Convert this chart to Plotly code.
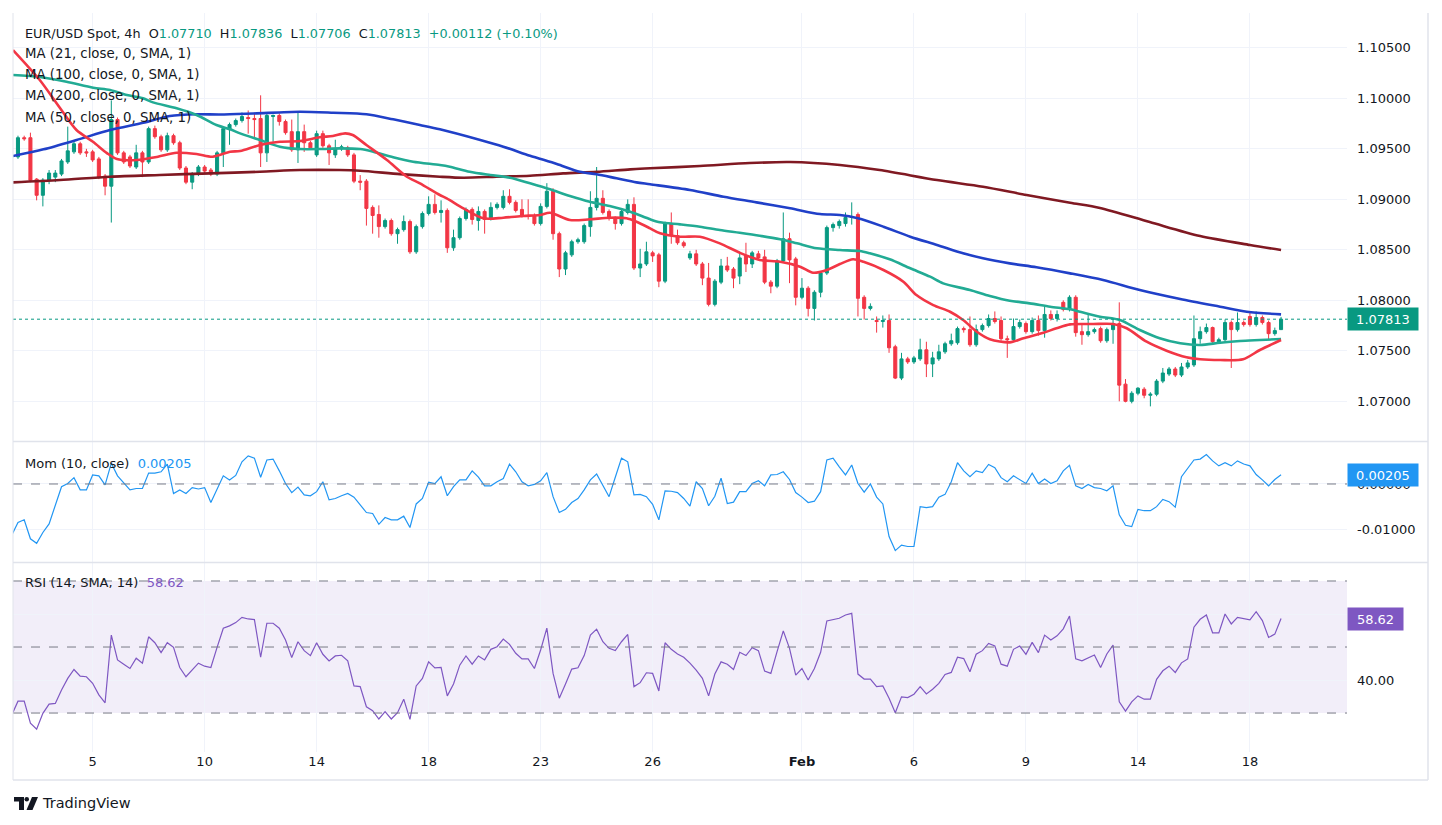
import plotly.graph_objects as go

# ---------------- DATA ----------------
bar_open = [
    1.0942, 1.0961, 1.0961, 1.0920, 1.0904, 1.0919, 1.0922, 1.0925, 1.0937, 1.0947,
    1.0955, 1.0947, 1.0947, 1.0940, 1.0923, 1.0913, 1.0979, 1.0946, 1.0942, 1.0932,
    1.0946, 1.0937, 1.0970, 1.0962, 1.0949, 1.0963, 1.0956, 1.0931, 1.0917, 1.0925,
    1.0932, 1.0929, 1.0925, 1.0946, 1.0969, 1.0974, 1.0978, 1.0981, 1.0980, 1.0980,
    1.0946, 1.0982, 1.0983, 1.0977, 1.0967, 1.0949, 1.0967, 1.0956, 1.0944, 1.0965,
    1.0953, 1.0944, 1.0950, 1.0951, 1.0944, 1.0918, 1.0918, 1.0892, 1.0885, 1.0873,
    1.0879, 1.0866, 1.0870, 1.0878, 1.0848, 1.0873, 1.0886, 1.0895, 1.0887, 1.0889,
    1.0852, 1.0862, 1.0881, 1.0890, 1.0879, 1.0888, 1.0881, 1.0892, 1.0892, 1.0903,
    1.0897, 1.0890, 1.0884, 1.0884, 1.0876, 1.0893, 1.0908, 1.0866, 1.0831, 1.0845,
    1.0858, 1.0858, 1.0873, 1.0892, 1.0901, 1.0888, 1.0881, 1.0876, 1.0887, 1.0895,
    1.0832, 1.0836, 1.0847, 1.0845, 1.0819, 1.0876, 1.0864, 1.0857, 1.0842, 1.0846,
    1.0836, 1.0822, 1.0796, 1.0818, 1.0834, 1.0831, 1.0824, 1.0844, 1.0836, 1.0846,
    1.0843, 1.0818, 1.0814, 1.0839, 1.0861, 1.0841, 1.0803, 1.0812, 1.0792, 1.0808,
    1.0827, 1.0872, 1.0874, 1.0876, 1.0882, 1.0885, 1.0803, 1.0792, 1.0780, 1.0779,
    1.0780, 1.0754, 1.0723, 1.0742, 1.0739, 1.0742, 1.0751, 1.0737, 1.0742, 1.0749,
    1.0757, 1.0758, 1.0772, 1.0771, 1.0756, 1.0771, 1.0775, 1.0782, 1.0780, 1.0762,
    1.0761, 1.0774, 1.0777, 1.0769, 1.0780, 1.0770, 1.0786, 1.0782, 1.0798, 1.0791,
    1.0803, 1.0769, 1.0766, 1.0769, 1.0772, 1.0760, 1.0771, 1.0777, 1.0717, 1.0700,
    1.0708, 1.0712, 1.0706, 1.0707, 1.0720, 1.0727, 1.0732, 1.0726, 1.0734, 1.0736,
    1.0762, 1.0769, 1.0773, 1.0759, 1.0761, 1.0778, 1.0771, 1.0778, 1.0784, 1.0776,
    1.0783, 1.0778, 1.0767, 1.07710,
]
bar_high = [
    1.0963, 1.0963, 1.0966, 1.0921, 1.0921, 1.0929, 1.0929, 1.0940, 1.0972, 1.0958,
    1.0957, 1.0950, 1.0949, 1.0942, 1.0925, 1.0998, 1.0981, 1.0948, 1.0944, 1.0954,
    1.0948, 1.0972, 1.0973, 1.0964, 1.0966, 1.0965, 1.0958, 1.0933, 1.0927, 1.0934,
    1.0934, 1.0931, 1.0948, 1.0972, 1.0976, 1.0980, 1.0986, 1.0988, 1.0985, 1.1003,
    1.0985, 1.0984, 1.0985, 1.0979, 1.0979, 1.0987, 1.0974, 1.0958, 1.0968, 1.0968,
    1.0955, 1.0959, 1.0954, 1.0953, 1.0946, 1.0924, 1.0920, 1.0894, 1.0894, 1.0881,
    1.0881, 1.0872, 1.0884, 1.0880, 1.0875, 1.0888, 1.0903, 1.0905, 1.0899, 1.0891,
    1.0870, 1.0883, 1.0892, 1.0892, 1.0893, 1.0890, 1.0897, 1.0897, 1.0909, 1.0910,
    1.0899, 1.0900, 1.0900, 1.0886, 1.0896, 1.0916, 1.0911, 1.0868, 1.0849, 1.0860,
    1.0862, 1.0876, 1.0908, 1.0932, 1.0909, 1.0890, 1.0883, 1.0890, 1.0900, 1.0902,
    1.0851, 1.0858, 1.0849, 1.0847, 1.0878, 1.0887, 1.0870, 1.0859, 1.0849, 1.0850,
    1.0838, 1.0837, 1.0821, 1.0841, 1.0843, 1.0833, 1.0848, 1.0857, 1.0849, 1.0849,
    1.0850, 1.0820, 1.0841, 1.0887, 1.0867, 1.0843, 1.0822, 1.0814, 1.0810, 1.0829,
    1.0874, 1.0877, 1.0880, 1.0887, 1.0897, 1.0887, 1.0805, 1.0797, 1.0784, 1.0785,
    1.0786, 1.0756, 1.0748, 1.0744, 1.0745, 1.0762, 1.0759, 1.0749, 1.0756, 1.0759,
    1.0767, 1.0774, 1.0774, 1.0784, 1.0776, 1.0777, 1.0786, 1.0789, 1.0784, 1.0765,
    1.0782, 1.0781, 1.0779, 1.0783, 1.0785, 1.0794, 1.0790, 1.0790, 1.0800, 1.0805,
    1.0805, 1.0777, 1.0787, 1.0773, 1.0774, 1.0773, 1.0782, 1.0798, 1.0722, 1.0710,
    1.0714, 1.0714, 1.0709, 1.0722, 1.0733, 1.0734, 1.0734, 1.0738, 1.0741, 1.0785,
    1.0774, 1.0777, 1.0774, 1.0763, 1.0781, 1.0780, 1.0788, 1.0780, 1.0789, 1.0789,
    1.0785, 1.0780, 1.0773, 1.07836,
]
bar_low = [
    1.0940, 1.0958, 1.0917, 1.0899, 1.0893, 1.0915, 1.0917, 1.0923, 1.0935, 1.0945,
    1.0944, 1.0942, 1.0937, 1.0920, 1.0904, 1.0877, 1.0944, 1.0935, 1.0931, 1.0930,
    1.0922, 1.0935, 1.0960, 1.0947, 1.0947, 1.0954, 1.0929, 1.0915, 1.0910, 1.0923,
    1.0926, 1.0923, 1.0923, 1.0932, 1.0954, 1.0972, 1.0976, 1.0965, 1.0961, 1.0932,
    1.0937, 1.0957, 1.0973, 1.0964, 1.0947, 1.0936, 1.0947, 1.0949, 1.0942, 1.0951,
    1.0934, 1.0941, 1.0948, 1.0942, 1.0916, 1.0909, 1.0874, 1.0866, 1.0862, 1.0871,
    1.0864, 1.0856, 1.0868, 1.0846, 1.0846, 1.0871, 1.0884, 1.0885, 1.0877, 1.0847,
    1.0849, 1.0860, 1.0879, 1.0875, 1.0869, 1.0866, 1.0879, 1.0890, 1.0890, 1.0895,
    1.0887, 1.0882, 1.0880, 1.0874, 1.0874, 1.0891, 1.0860, 1.0823, 1.0825, 1.0843,
    1.0856, 1.0856, 1.0863, 1.0889, 1.0885, 1.0879, 1.0870, 1.0874, 1.0885, 1.0830,
    1.0823, 1.0834, 1.0838, 1.0813, 1.0817, 1.0856, 1.0855, 1.0852, 1.0840, 1.0834,
    1.0815, 1.0794, 1.0794, 1.0816, 1.0828, 1.0812, 1.0816, 1.0828, 1.0832, 1.0840,
    1.0816, 1.0807, 1.0812, 1.0837, 1.0817, 1.0795, 1.0801, 1.0784, 1.0780, 1.0803,
    1.0825, 1.0868, 1.0871, 1.0873, 1.0875, 1.0784, 1.0781, 1.0790, 1.0768, 1.0773,
    1.0748, 1.0722, 1.0721, 1.0737, 1.0737, 1.0740, 1.0724, 1.0724, 1.0740, 1.0747,
    1.0755, 1.0756, 1.0768, 1.0754, 1.0754, 1.0769, 1.0773, 1.0777, 1.0760, 1.0743,
    1.0759, 1.0772, 1.0767, 1.0767, 1.0765, 1.0763, 1.0780, 1.0779, 1.0789, 1.0789,
    1.0764, 1.0756, 1.0764, 1.0767, 1.0758, 1.0758, 1.0757, 1.0700, 1.0699, 1.0698,
    1.0706, 1.0703, 1.0695, 1.0705, 1.0718, 1.0725, 1.0724, 1.0724, 1.0732, 1.0734,
    1.0757, 1.0767, 1.0757, 1.0757, 1.0759, 1.0733, 1.0769, 1.0774, 1.0774, 1.0774,
    1.0776, 1.0761, 1.0765, 1.07706,
]
bar_close = [
    1.0961, 1.0960, 1.0919, 1.0904, 1.0919, 1.0926, 1.0926, 1.0938, 1.0948, 1.0955,
    1.0946, 1.0946, 1.0939, 1.0922, 1.0913, 1.0979, 1.0946, 1.0937, 1.0933, 1.0946,
    1.0937, 1.0970, 1.0962, 1.0949, 1.0963, 1.0956, 1.0931, 1.0917, 1.0925, 1.0932,
    1.0928, 1.0925, 1.0946, 1.0970, 1.0974, 1.0978, 1.0982, 1.0980, 1.0979, 1.0946,
    1.0983, 1.0983, 1.0977, 1.0966, 1.0949, 1.0967, 1.0956, 1.0951, 1.0965, 1.0953,
    1.0946, 1.0950, 1.0952, 1.0944, 1.0918, 1.0917, 1.0891, 1.0884, 1.0873, 1.0879,
    1.0866, 1.0870, 1.0878, 1.0848, 1.0873, 1.0886, 1.0895, 1.0887, 1.0889, 1.0852,
    1.0862, 1.0881, 1.0890, 1.0880, 1.0888, 1.0880, 1.0892, 1.0895, 1.0903, 1.0897,
    1.0889, 1.0884, 1.0883, 1.0876, 1.0893, 1.0908, 1.0866, 1.0831, 1.0847, 1.0858,
    1.0860, 1.0874, 1.0892, 1.0901, 1.0887, 1.0881, 1.0876, 1.0888, 1.0895, 1.0832,
    1.0836, 1.0848, 1.0844, 1.0819, 1.0876, 1.0864, 1.0857, 1.0854, 1.0846, 1.0836,
    1.0822, 1.0796, 1.0819, 1.0834, 1.0830, 1.0822, 1.0842, 1.0836, 1.0847, 1.0842,
    1.0818, 1.0814, 1.0839, 1.0861, 1.0840, 1.0803, 1.0812, 1.0792, 1.0808, 1.0827,
    1.0872, 1.0875, 1.0878, 1.0882, 1.0883, 1.0802, 1.0792, 1.0794, 1.0779, 1.0780,
    1.0753, 1.0723, 1.0742, 1.0739, 1.0743, 1.0751, 1.0737, 1.0743, 1.0749, 1.0757,
    1.0760, 1.0772, 1.0771, 1.0756, 1.0771, 1.0775, 1.0782, 1.0779, 1.0762, 1.0761,
    1.0774, 1.0778, 1.0769, 1.0780, 1.0770, 1.0786, 1.0782, 1.0786, 1.0791, 1.0803,
    1.0768, 1.0766, 1.0769, 1.0771, 1.0760, 1.0771, 1.0777, 1.0716, 1.0700, 1.0708,
    1.0713, 1.0706, 1.0707, 1.0720, 1.0728, 1.0732, 1.0726, 1.0734, 1.0738, 1.0762,
    1.0769, 1.0773, 1.0759, 1.0761, 1.0778, 1.0771, 1.0778, 1.0776, 1.0776, 1.0783,
    1.0778, 1.0767, 1.0770, 1.07813,
]

# Moving averages (bar position, value)
ma21_bar = [-0.8, 3.5, 6.75, 9.4, 12.05, 14.3, 15.9, 19.1, 22.3, 25.5, 28.7, 31.3, 34.1, 35.7, 38.9, 42.1,
            45.3, 48.5, 50.6, 52.6, 53.8, 56.0, 59.3, 62.5, 64.6, 67.8, 68.9, 71.6, 74.8, 78.0, 81.2, 83.9,
            85.5, 88.7, 91.9, 95.1, 97.8, 99.4, 101.6, 103.2, 106.4, 109.6, 112.8, 116.0, 119.2, 122.5,
            125.7, 127.8, 130.0, 132.1, 134.2, 135.9, 139.1, 142.3, 144.4, 147.1, 149.8, 151.9, 154.1,
            156.2, 159.4, 161.6, 164.8, 166.9, 169.1, 172.8, 176.0, 178.2, 181.4, 184.6, 187.8, 190.0,
            193.2, 196.9, 199.6, 203.0]
ma21_val = [1.10478, 1.10181, 1.09904, 1.09686, 1.09570, 1.09458, 1.09399, 1.09389, 1.09419, 1.09461,
            1.09449, 1.09422, 1.09471, 1.09478, 1.09538, 1.09570, 1.09577, 1.09614, 1.09627, 1.09653,
            1.09637, 1.09538, 1.09389, 1.09224, 1.09158, 1.09043, 1.09010, 1.08911, 1.08812, 1.08818,
            1.08835, 1.08845, 1.08867, 1.08795, 1.08802, 1.08818, 1.08812, 1.08778, 1.08713, 1.08663,
            1.08630, 1.08630, 1.08564, 1.08471, 1.08399, 1.08382, 1.08333, 1.08273, 1.08300, 1.08359,
            1.08406, 1.08382, 1.08300, 1.08184, 1.08052, 1.07953, 1.07887, 1.07805, 1.07689, 1.07614,
            1.07584, 1.07624, 1.07679, 1.07723, 1.07762, 1.07765, 1.07765, 1.07723, 1.07590, 1.07501,
            1.07436, 1.07416, 1.07409, 1.07416, 1.07508, 1.07607]

ma50_bar = [-0.8, 3.5, 7.8, 12.1, 14.8, 17.5, 20.1, 21.7, 25.5, 28.7, 31.9, 34.1, 35.7, 38.9, 42.1, 45.3,
            48.5, 51.7, 55.0, 57.1, 60.3, 63.5, 67.8, 69.4, 72.6, 75.9, 79.1, 82.3, 85.5, 88.7, 91.9, 95.1,
            98.4, 101.6, 103.2, 106.4, 109.6, 112.8, 116.0, 119.2, 122.5, 125.2, 128.4, 132.1, 135.3,
            136.9, 140.1, 143.4, 146.6, 148.7, 153.0, 156.2, 159.4, 162.6, 165.9, 169.1, 170.7, 173.9,
            177.1, 180.3, 183.5, 186.8, 190.0, 193.2, 196.4, 199.6, 203.0]
ma50_val = [1.10231, 1.10211, 1.10164, 1.10105, 1.10082, 1.10033, 1.10000, 1.09960, 1.09901, 1.09835,
            1.09736, 1.09693, 1.09653, 1.09587, 1.09521, 1.09498, 1.09498, 1.09505, 1.09498, 1.09471,
            1.09416, 1.09372, 1.09340, 1.09323, 1.09273, 1.09241, 1.09214, 1.09158, 1.09099, 1.09033,
            1.08976, 1.08934, 1.08877, 1.08802, 1.08772, 1.08752, 1.08729, 1.08696, 1.08669, 1.08640,
            1.08604, 1.08564, 1.08515, 1.08498, 1.08488, 1.08465, 1.08406, 1.08317, 1.08234, 1.08168,
            1.08102, 1.08043, 1.07996, 1.07970, 1.07937, 1.07911, 1.07887, 1.07838, 1.07805, 1.07706,
            1.07624, 1.07574, 1.07557, 1.07580, 1.07597, 1.07607, 1.07617]

ma100_bar = [-0.8, 4.1, 9.4, 14.8, 20.1, 24.4, 28.7, 32.5, 37.8, 45.3, 50.7, 56.0, 60.3, 64.6, 67.8, 74.3,
             78.0, 82.3, 86.6, 90.3, 93.0, 96.2, 99.4, 101.6, 108.0, 113.4, 118.7, 124.1, 128.9, 132.1,
             135.0, 139.1, 143.4, 147.7, 151.9, 155.1, 159.4, 163.7, 169.1, 174.4, 180.3, 186.8, 193.2,
             197.5, 203.0]
ma100_val = [1.09429, 1.09495, 1.09587, 1.09686, 1.09758, 1.09825, 1.09842, 1.09840, 1.09850, 1.09867,
             1.09857, 1.09842, 1.09792, 1.09736, 1.09693, 1.09587, 1.09521, 1.09432, 1.09350, 1.09273,
             1.09248, 1.09208, 1.09168, 1.09149, 1.09092, 1.09026, 1.08970, 1.08911, 1.08854, 1.08845,
             1.08812, 1.08729, 1.08630, 1.08548, 1.08465, 1.08416, 1.08366, 1.08327, 1.08267, 1.08201,
             1.08102, 1.08013, 1.07937, 1.07887, 1.07861]

ma200_bar = [-0.8, 6.75, 14.8, 22.8, 30.9, 38.9, 45.3, 51.7, 55.0, 61.4, 67.8, 71.6, 76.9, 82.3, 87.6,
             93.0, 98.4, 101.6, 109.6, 117.6, 124.1, 132.1, 138.5, 147.7, 155.1, 162.1, 169.1, 173.9,
             181.9, 190.0, 198.0, 203.0]
ma200_val = [1.09168, 1.09191, 1.09224, 1.09241, 1.09257, 1.09273, 1.09290, 1.09290, 1.09283, 1.09250,
             1.09224, 1.09214, 1.09224, 1.09234, 1.09257, 1.09273, 1.09297, 1.09307, 1.09330, 1.09359,
             1.09369, 1.09340, 1.09290, 1.09191, 1.09125, 1.09043, 1.08966, 1.08914, 1.08775, 1.08637,
             1.08548, 1.08498]

# Momentum (10) per bar, starting one bar before the first candle
mom_val = [
    -0.0113,
    -0.0085, -0.0079, -0.0121, -0.0131, -0.0107, -0.0088, -0.0046, -0.0006, 0.0001, 0.0014,
    -0.0013, -0.0013, 0.0020, 0.0018, -0.0002, 0.0046, 0.0018, 0.0003, -0.0013, -0.0010,
    -0.0010, 0.0024, 0.0024, 0.0027, 0.0044, -0.0021, -0.0013, -0.0021, -0.0008, -0.0011,
    -0.0008, -0.0041, -0.0013, 0.0018, 0.0009, 0.0019, 0.0049, 0.0062, 0.0057, 0.0015,
    0.0053, 0.0055, 0.0029, 0.0001, -0.0019, -0.0007, -0.0024, -0.0026, -0.0017, 0.0005,
    -0.0035, -0.0032, -0.0026, -0.0021, -0.0029, -0.0046, -0.0063, -0.0065, -0.0089, -0.0074,
    -0.0079, -0.0079, -0.0071, -0.0096, -0.0044, -0.0032, 0.0004, 0.0001, 0.0016, -0.0026,
    -0.0006, 0.0009, 0.0009, 0.0029, 0.0015, -0.0004, -0.0004, 0.0005, 0.0012, 0.0044,
    0.0027, 0.0005, -0.0004, -0.0001, 0.0007, 0.0025, -0.0028, -0.0063, -0.0056, -0.0041,
    -0.0032, -0.0013, 0.0009, 0.0022, -0.0002, -0.0028, 0.0015, 0.0057, 0.0049, -0.0024,
    -0.0023, -0.0028, -0.0045, -0.0079, -0.0015, -0.0016, -0.0019, -0.0032, -0.0049, 0.0005,
    -0.0010, -0.0048, -0.0027, 0.0013, -0.0043, -0.0040, -0.0017, -0.0017, 0.0001, 0.0007,
    -0.0004, 0.0020, 0.0021, 0.0027, 0.0010, -0.0019, -0.0029, -0.0041, -0.0038, -0.0017,
    0.0053, 0.0057, 0.0038, 0.0020, 0.0042, 0.0001, -0.0018, 0.0000, -0.0029, -0.0044,
    -0.0116, -0.0147, -0.0135, -0.0138, -0.0138, -0.0050, -0.0052, -0.0050, -0.0029, -0.0023,
    0.0005, 0.0047, 0.0029, 0.0016, 0.0029, 0.0025, 0.0043, 0.0036, 0.0014, 0.0005,
    0.0018, 0.0009, 0.0001, 0.0024, 0.0001, 0.0011, 0.0001, 0.0007, 0.0029, 0.0041,
    -0.0004, -0.0010, -0.0001, -0.0008, -0.0010, -0.0015, -0.0004, -0.0068, -0.0091, -0.0094,
    -0.0056, -0.0059, -0.0059, -0.0050, -0.0034, -0.0039, -0.0051, 0.0016, 0.0035, 0.0053,
    0.0055, 0.0065, 0.0051, 0.0040, 0.0047, 0.0040, 0.0051, 0.0044, 0.0040, 0.0021,
    0.0009, -0.0004, 0.0010, 0.00205,
]

# RSI (14) per bar, starting one bar before the first candle
rsi_val = [
    29.4,
    33.6, 33.6, 26.9, 25.1, 29.9, 32.7, 32.9, 37.0, 40.5, 43.2,
    41.2, 41.0, 39.0, 35.5, 33.1, 53.6, 46.1, 44.8, 43.5, 46.6,
    45.1, 53.1, 51.3, 48.3, 51.3, 49.9, 43.8, 41.0, 43.0, 45.1,
    44.2, 43.8, 49.9, 55.7, 56.4, 57.4, 59.0, 58.5, 58.3, 46.9,
    57.2, 57.2, 55.7, 52.1, 46.8, 51.6, 48.9, 47.4, 51.3, 47.8,
    45.8, 47.3, 47.5, 45.8, 38.2, 38.0, 31.9, 30.7, 28.2, 30.4,
    28.2, 30.1, 34.2, 28.1, 38.2, 40.5, 45.5, 43.7, 43.8, 35.2,
    38.8, 44.5, 47.3, 44.8, 47.3, 46.1, 49.3, 50.1, 52.4, 50.8,
    48.1, 46.4, 46.4, 43.5, 49.1, 55.7, 42.0, 34.5, 38.8, 43.3,
    43.7, 47.4, 53.6, 55.4, 51.6, 49.6, 48.9, 51.6, 53.8, 38.0,
    39.2, 42.2, 42.0, 36.7, 51.3, 49.3, 47.9, 46.9, 45.1, 43.0,
    40.5, 35.2, 41.8, 45.5, 44.8, 43.2, 48.4, 47.4, 49.8, 48.9,
    42.7, 42.0, 48.6, 54.9, 49.6, 41.5, 43.5, 40.0, 43.5, 48.4,
    57.9, 58.2, 58.7, 59.7, 60.2, 41.8, 40.3, 40.3, 38.0, 38.2,
    34.5, 30.1, 34.9, 34.7, 35.7, 38.0, 35.8, 37.2, 39.0, 41.7,
    42.3, 46.9, 46.5, 42.5, 47.8, 48.9, 51.1, 50.3, 44.8, 44.2,
    49.3, 50.3, 47.8, 51.4, 48.3, 53.6, 52.1, 53.4, 55.5, 59.4,
    46.4, 45.8, 46.6, 47.6, 43.8, 47.9, 50.6, 33.4, 30.6, 33.4,
    35.2, 34.2, 34.2, 40.2, 42.8, 44.2, 42.3, 45.2, 46.4, 56.0,
    58.4, 59.7, 54.3, 54.3, 60.0, 57.0, 59.0, 58.7, 58.2, 60.7,
    58.0, 52.9, 53.9, 58.62,
]

tick_bars = [12, 30, 48, 66, 84, 102, 126, 144, 162, 180, 198]
tick_text = ["5", "10", "14", "18", "23", "26", "<b>Feb</b>", "6", "9", "14", "18"]
price_ticks = [1.070, 1.075, 1.080, 1.085, 1.090, 1.095, 1.100, 1.105]
mom_ticks = [0.0, -0.01]
mom_tick_text = ["0.00000", "-0.01000"]
rsi_ticks = [40, 60]
rsi_tick_text = ["40.00", ""]
rsi_levels = [30, 50, 70]

symbol = "EUR/USD Spot, 4h"
change_text = "+0.00112 (+0.10%)"
ma_labels = ["MA (21, close, 0, SMA, 1)", "MA (100, close, 0, SMA, 1)",
             "MA (200, close, 0, SMA, 1)", "MA (50, close, 0, SMA, 1)"]

# ---------------- STYLE ----------------
UP = "#089981"
DOWN = "#f23645"
TXT = "#131722"
GRID = "#f0f3fa"
BORDER = "#e0e3eb"
MOMC = "#2196f3"
RSIC = "#7e57c2"
FONT = "'DejaVu Sans', sans-serif"

# page geometry (reference pixels); the page body adds an 8 px margin
OFF = 8
FW, FH = 1442 - 2 * OFF, 825 - 2 * OFF
PL, PR, PT, PB = 13, 1347, 13, 752


def px(x):
    return (x - PL) / (PR - PL)


def py(y):
    return (PB - y) / (PB - PT)


n = len(bar_close)
bars = list(range(n))
mom_x = list(range(-1, len(mom_val) - 1))
rsi_x = list(range(-1, len(rsi_val) - 1))
xr = [-0.8, 213.6]

fig = go.Figure()
fig.add_trace(go.Candlestick(
    x=bars, open=bar_open, high=bar_high, low=bar_low, close=bar_close,
    increasing=dict(line=dict(color=UP, width=1), fillcolor=UP),
    decreasing=dict(line=dict(color=DOWN, width=1), fillcolor=DOWN),
    whiskerwidth=0, showlegend=False, hoverinfo="skip", xaxis="x", yaxis="y"))

for bx, vy, col in [(ma200_bar, ma200_val, "#801922"),
                    (ma100_bar, ma100_val, "#2040c8"),
                    (ma50_bar, ma50_val, "#22ab94"),
                    (ma21_bar, ma21_val, "#f23645")]:
    fig.add_trace(go.Scatter(x=bx, y=vy, mode="lines",
                             line=dict(color=col, width=2.6, shape="spline", smoothing=0.8),
                             showlegend=False, hoverinfo="skip", xaxis="x", yaxis="y"))

fig.add_trace(go.Scatter(x=mom_x, y=mom_val, mode="lines", line=dict(color=MOMC, width=1.2),
                         showlegend=False, hoverinfo="skip", xaxis="x2", yaxis="y2"))
fig.add_trace(go.Scatter(x=rsi_x, y=rsi_val, mode="lines", line=dict(color=RSIC, width=1.2),
                         showlegend=False, hoverinfo="skip", xaxis="x3", yaxis="y3"))

xcommon = dict(range=xr, tickvals=tick_bars, ticktext=tick_text, showgrid=True, gridcolor=GRID,
               gridwidth=1, zeroline=False, showline=False, ticks="", fixedrange=True)
ycommon = dict(side="right", showgrid=True, gridcolor=GRID, gridwidth=1, zeroline=False,
               showline=False, ticks="", ticklabelstandoff=9,
               tickfont=dict(family=FONT, size=13, color=TXT))

fig.update_layout(
    width=FW, height=FH,
    margin=dict(l=PL - OFF, r=FW - (PR - OFF), t=PT - OFF, b=FH - (PB - OFF)),
    paper_bgcolor="white", plot_bgcolor="white",
    font=dict(family=FONT, color=TXT, size=13),
    showlegend=False,
    xaxis=dict(domain=[0, 1], anchor="y", matches="x3", showticklabels=False,
               rangeslider=dict(visible=False), **xcommon),
    xaxis2=dict(domain=[0, 1], anchor="y2", matches="x3", showticklabels=False, **xcommon),
    xaxis3=dict(domain=[0, 1], anchor="y3", showticklabels=True,
                tickfont=dict(family=FONT, size=13, color=TXT), **xcommon),
    yaxis=dict(domain=[py(441), 1], anchor="x", range=[1.06607, 1.10845],
               tickvals=price_ticks, ticktext=[f"{v:.5f}" for v in price_ticks], **ycommon),
    yaxis2=dict(domain=[py(562), py(442)], anchor="x2", range=[-0.01722, 0.00927],
                tickvals=mom_ticks, ticktext=mom_tick_text, **ycommon),
    yaxis3=dict(domain=[0, py(563)], anchor="x3", range=[18.2, 75.45],
                tickvals=rsi_ticks, ticktext=rsi_tick_text, **ycommon),
)

shapes = []
# RSI band and levels
shapes.append(dict(type="rect", xref="x3 domain", yref="y3", x0=0, x1=1,
                   y0=min(rsi_levels), y1=max(rsi_levels),
                   fillcolor="rgba(126,87,194,0.1)", line=dict(width=0), layer="below"))
for lv in rsi_levels:
    shapes.append(dict(type="line", xref="x3 domain", yref="y3", x0=0, x1=1, y0=lv, y1=lv,
                       line=dict(color="#787b86", width=1, dash="dash")))
shapes.append(dict(type="line", xref="x2 domain", yref="y2", x0=0, x1=1, y0=0, y1=0,
                   line=dict(color="#787b86", width=1, dash="dash")))
# last price line
shapes.append(dict(type="line", xref="x domain", yref="y", x0=0, x1=1,
                   y0=bar_close[-1], y1=bar_close[-1], line=dict(color=UP, width=1, dash="dot")))
# panel separators and borders
for yy in (441.5, 562.5):
    shapes.append(dict(type="line", xref="paper", yref="paper", x0=px(13), x1=px(1428),
                       y0=py(yy), y1=py(yy), line=dict(color=BORDER, width=1.5)))
shapes.append(dict(type="line", xref="paper", yref="paper", x0=px(13), x1=px(1428),
                   y0=py(780), y1=py(780), line=dict(color=BORDER, width=1.5)))
shapes.append(dict(type="line", xref="paper", yref="paper", x0=px(1428), x1=px(1428),
                   y0=py(13), y1=py(780), line=dict(color=BORDER, width=1.5)))
shapes.append(dict(type="line", xref="paper", yref="paper", x0=px(13), x1=px(13),
                   y0=py(13), y1=py(780), line=dict(color=BORDER, width=1)))


# TradingView logo
def path(points):
    return "M " + " L ".join(f"{px(a):.5f},{py(b):.5f}" for a, b in points) + " Z"


shapes.append(dict(type="path", xref="paper", yref="paper",
                   path=path([(14, 797), (24, 797), (24, 810), (19, 810), (19, 801.5), (14, 801.5)]),
                   fillcolor=TXT, line=dict(width=0)))
shapes.append(dict(type="circle", xref="paper", yref="paper", x0=px(24.5), x1=px(29),
                   y0=py(801.5), y1=py(797), fillcolor=TXT, line=dict(width=0)))
shapes.append(dict(type="path", xref="paper", yref="paper",
                   path=path([(32, 797), (38, 797), (32.5, 810), (26.5, 810)]),
                   fillcolor=TXT, line=dict(width=0)))
fig.update_layout(shapes=shapes)

ann = []
sp = "\u00a0\u00a0"


def g(v):
    return f"<span style='color:{UP}'>{v}</span>"


header = (f"{symbol}{sp}O{g(f'{bar_open[-1]:.5f}')}{sp}H{g(f'{bar_high[-1]:.5f}')}"
          f"{sp}L{g(f'{bar_low[-1]:.5f}')}{sp}C{g(f'{bar_close[-1]:.5f}')}{sp}{g(change_text)}")
ann.append(dict(xref="paper", yref="paper", x=px(23), y=py(33), xanchor="left", yanchor="middle",
                text=header, showarrow=False, font=dict(family=FONT, size=12.8, color=TXT)))
for i, lab in enumerate(ma_labels):
    ann.append(dict(xref="paper", yref="paper", x=px(23), y=py(54 + 21 * i), xanchor="left",
                    yanchor="middle", text=lab, showarrow=False,
                    font=dict(family=FONT, size=13.3, color=TXT)))
ann.append(dict(xref="paper", yref="paper", x=px(23), y=py(463), xanchor="left", yanchor="middle",
                text=f"Mom (10, close)\u00a0\u00a0<span style='color:{MOMC}'>{mom_val[-1]:.5f}</span>",
                showarrow=False, font=dict(family=FONT, size=13, color=TXT)))
ann.append(dict(xref="paper", yref="paper", x=px(23), y=py(582), xanchor="left", yanchor="middle",
                text=f"RSI (14, SMA, 14)\u00a0\u00a0<span style='color:{RSIC}'>{rsi_val[-1]:.2f}</span>",
                showarrow=False, font=dict(family=FONT, size=13, color=TXT)))
# value boxes on the right scale
for yref, yv, txt, col, w in [("y", bar_close[-1], f"{bar_close[-1]:.5f}", UP, 68),
                              ("y2", mom_val[-1], f"{mom_val[-1]:.5f}", MOMC, 68),
                              ("y3", rsi_val[-1], f"{rsi_val[-1]:.2f}", RSIC, 53)]:
    ann.append(dict(xref="paper", yref=yref, x=1.0, y=yv, xanchor="left", yanchor="middle",
                    text=txt, showarrow=False, bgcolor=col, width=w, height=20, borderpad=1,
                    align="center", font=dict(family=FONT, size=13, color="white")))
ann.append(dict(xref="paper", yref="paper", x=px(40), y=py(803), xanchor="left", yanchor="middle",
                text="TradingView", showarrow=False, font=dict(family=FONT, size=14.5, color=TXT)))
fig.update_layout(annotations=ann)

fig.write_html("out.html", config={"displayModeBar": False})
